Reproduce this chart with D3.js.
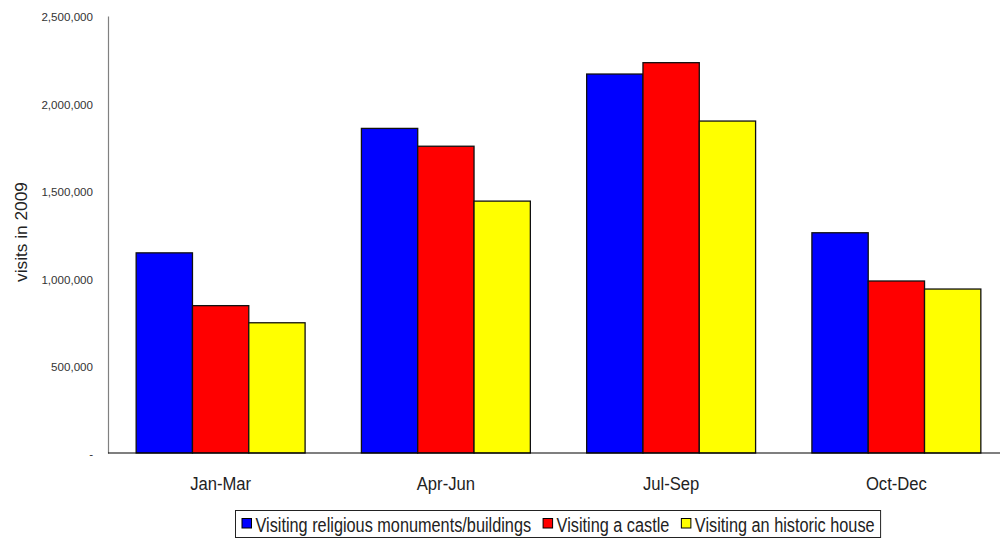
<!DOCTYPE html>
<html>
<head>
<meta charset="utf-8">
<script src="https://cdn.jsdelivr.net/npm/d3@7"></script>
<style>
  html, body { margin: 0; padding: 0; background: #fff; }
  svg { display: block; }
  text { font-family: "Liberation Sans", Arial, sans-serif; }
</style>
</head>
<body>
<svg id="chart" width="1000" height="540"></svg>
<script>
// Quarterly visits to heritage attractions, 2009
const quarters = ["Jan-Mar", "Apr-Jun", "Jul-Sep", "Oct-Dec"];
const seriesNames = [
  "Visiting religious monuments/buildings",
  "Visiting a castle",
  "Visiting an historic house"
];
const seriesColors = ["#0000ff", "#ff0000", "#ffff00"];
const religious = [1145000, 1857000, 2168000, 1260000];
const castle = [843000, 1755000, 2233000, 984000];
const historicHouse = [745000, 1441000, 1899000, 938000];
const yTicks = [0, 500000, 1000000, 1500000, 2000000, 2500000];

const seriesValues = [religious, castle, historicHouse];

const svg = d3.select("#chart");
const plotLeft = 108, plotRight = 1009, plotTop = 16, plotBottom = 453;

const y = d3.scaleLinear().domain([0, 2500000]).range([plotBottom, plotTop]);
const x0 = d3.scaleBand().domain(quarters).range([plotLeft, plotRight]);
const bw = x0.bandwidth();
const x1 = d3.scaleBand().domain(d3.range(seriesNames.length))
  .range([bw / 8, bw * 7 / 8]);

// value axis: grey spine, labels only
const fmt = d3.format(",");
const yAxis = d3.axisLeft(y).tickValues(yTicks).tickSize(0).tickPadding(15)
  .tickFormat(d => d === 0 ? "-" : fmt(d));
const gy = svg.append("g").attr("transform", `translate(${plotLeft},0)`).call(yAxis);
gy.select(".domain").attr("stroke", "#808080").attr("stroke-width", 1.2);
gy.selectAll("text").attr("fill", "#333").attr("dy", "0.42em").style("font-size", "11.6px");

// axis title, slightly widened along its run
svg.append("text")
  .attr("transform", "translate(26.5,232) rotate(-90) scale(1.06,1)")
  .attr("text-anchor", "middle")
  .style("font-size", "16.3px")
  .attr("fill", "#222")
  .text("visits in 2009");

// bars
const groups = svg.append("g").selectAll("g")
  .data(quarters)
  .join("g")
  .attr("transform", d => `translate(${x0(d)},0)`);

groups.selectAll("rect")
  .data((q, qi) => seriesValues.map((vals, si) => ({ si, v: vals[qi] })))
  .join("rect")
  .attr("x", d => x1(d.si))
  .attr("width", x1.bandwidth())
  .attr("y", d => y(d.v))
  .attr("height", d => y(0) - y(d.v))
  .attr("fill", d => seriesColors[d.si])
  .attr("stroke", "#111")
  .attr("stroke-width", 1.3);

// category axis baseline and labels (narrowed to a condensed look)
const xAxis = d3.axisBottom(x0).tickSize(0).tickPadding(0);
const gx = svg.append("g").attr("transform", `translate(0,${plotBottom})`).call(xAxis);
gx.select(".domain").remove();
gx.selectAll("text")
  .attr("x", 0).attr("y", 0).attr("dy", 0)
  .attr("transform", "translate(0,37) scale(0.89,1)")
  .attr("fill", "#222").style("font-size", "18.7px");
svg.append("line")
  .attr("x1", plotLeft).attr("x2", 1000)
  .attr("y1", plotBottom).attr("y2", plotBottom)
  .attr("stroke", "#000").attr("stroke-width", 1.2);

// legend
const legendSqueeze = 0.835;
const legend = svg.append("g");
const legendBox = legend.append("rect")
  .attr("x", 235.5).attr("y", 510.5)
  .attr("height", 27)
  .attr("fill", "#fff").attr("stroke", "#222").attr("stroke-width", 1);
let lx = 242;
seriesNames.forEach((name, i) => {
  legend.append("rect")
    .attr("x", lx).attr("y", 518.5).attr("width", 9.5).attr("height", 9.5)
    .attr("fill", seriesColors[i]).attr("stroke", "#000").attr("stroke-width", 1);
  const t = legend.append("text")
    .attr("transform", `translate(${lx + 13.5},532) scale(${legendSqueeze},1)`)
    .style("font-size", "19.5px")
    .attr("fill", "#222")
    .text(name);
  const w = t.node().getComputedTextLength() * legendSqueeze;
  lx += 13.5 + w + 12;
});
legendBox.attr("width", lx - 235.5 - 6);
</script>
</body>
</html>
